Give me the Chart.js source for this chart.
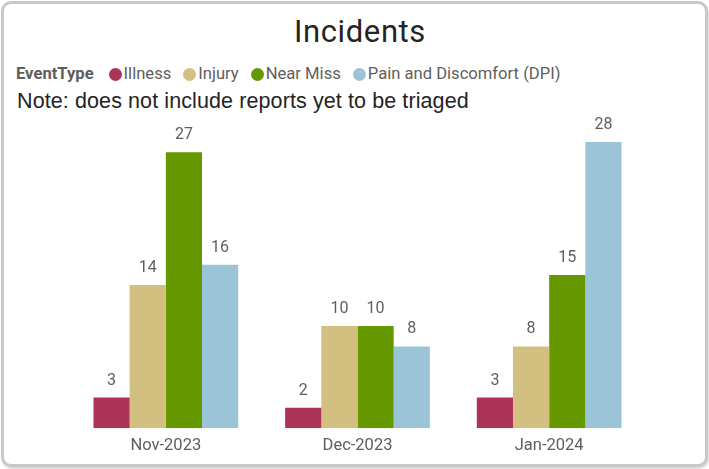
<!DOCTYPE html>
<html>
<head>
<meta charset="utf-8">
<script src="https://cdn.jsdelivr.net/npm/chart.js@4/dist/chart.umd.min.js"></script>
<style>
  html, body { margin: 0; padding: 0; background: #ffffff; width: 709px; height: 469px; overflow: hidden; }
  #card { position: absolute; left: 1px; top: 1px; width: 701px; height: 460px; border: 3px solid #c8c8c8; border-radius: 10px; box-shadow: 1px 2px 2px rgba(0,0,0,0.15); background: #fff; }
  #title { position: absolute; left: 0; width: 720px; top: 13px; text-align: center; font-family: Roboto, "DejaVu Sans", sans-serif; font-size: 31px; color: #252423; letter-spacing: 0.6px; }
  #legend { position: absolute; left: 16px; top: 64px; font-family: Roboto, "Liberation Sans", sans-serif; font-size: 16.6px; color: #605E5C; white-space: nowrap; }
  #legend .hdr { font-weight: bold; margin-right: 15px; }
  #legend .item { display: inline-block; margin-right: 12px; }
  #legend .dot { display: inline-block; width: 13px; height: 13px; border-radius: 50%; vertical-align: -2px; margin-right: 2px; }
  #note { position: absolute; left: 17px; top: 89px; font-family: "Liberation Sans", Arial, sans-serif; font-size: 21.5px; color: #252423; white-space: nowrap; letter-spacing: 0.1px; }
  #wrap { position: absolute; left: 0; top: 0; width: 709px; height: 469px; }
</style>
</head>
<body>
<div id="card"></div>
<div id="title">Incidents</div>
<div id="legend"></div>
<div id="note">Note: does not include reports yet to be triaged</div>
<div id="wrap"><canvas id="c" width="709" height="469"></canvas></div>
<script>
const categories = ["Nov-2023", "Dec-2023", "Jan-2024"];
const seriesNames = ["Illness", "Injury", "Near Miss", "Pain and Discomfort (DPI)"];
const illness = [3, 2, 3];
const injury = [14, 10, 8];
const nearMiss = [27, 10, 15];
const dpi = [16, 8, 28];
const seriesColors = ["#AE3358", "#D3BF80", "#669900", "#9CC4D8"];
const legendTitle = "EventType";

const seriesValues = [illness, injury, nearMiss, dpi];

// HTML legend built from the series arrays
const leg = document.getElementById('legend');
let html = '<span class="hdr">' + legendTitle + '</span>';
seriesNames.forEach((n, i) => {
  html += '<span class="item"><span class="dot" style="background:' + seriesColors[i] + '"></span>' + n + '</span>';
});
leg.innerHTML = html;

const valueLabels = {
  id: 'valueLabels',
  afterDatasetsDraw(chart) {
    const ctx = chart.ctx;
    ctx.save();
    ctx.font = '16px Roboto, "Liberation Sans", sans-serif';
    ctx.fillStyle = '#605E5C';
    ctx.textAlign = 'center';
    ctx.textBaseline = 'alphabetic';
    chart.data.datasets.forEach((ds, di) => {
      const meta = chart.getDatasetMeta(di);
      meta.data.forEach((bar, i) => {
        ctx.fillText(String(ds.data[i]), bar.x, bar.y - 13);
      });
    });
    ctx.restore();
  }
};

new Chart(document.getElementById('c'), {
  type: 'bar',
  data: {
    labels: categories,
    datasets: seriesNames.map((n, i) => ({
      label: n,
      data: seriesValues[i],
      backgroundColor: seriesColors[i],
      borderWidth: 0,
      categoryPercentage: 0.755,
      barPercentage: 1.0
    }))
  },
  options: {
    responsive: false,
    animation: false,
    devicePixelRatio: 1,
    layout: { padding: { left: 70, right: 64, top: 142, bottom: 13 } },
    plugins: { legend: { display: false }, title: { display: false }, tooltip: { enabled: false } },
    scales: {
      x: {
        grid: { display: false },
        border: { display: false },
        ticks: { color: '#605E5C', font: { family: 'Roboto, "Liberation Sans", sans-serif', size: 16.5 }, padding: 0 }
      },
      y: { display: false, min: 0, max: 28 }
    }
  },
  plugins: [valueLabels]
});
</script>
</body>
</html>
